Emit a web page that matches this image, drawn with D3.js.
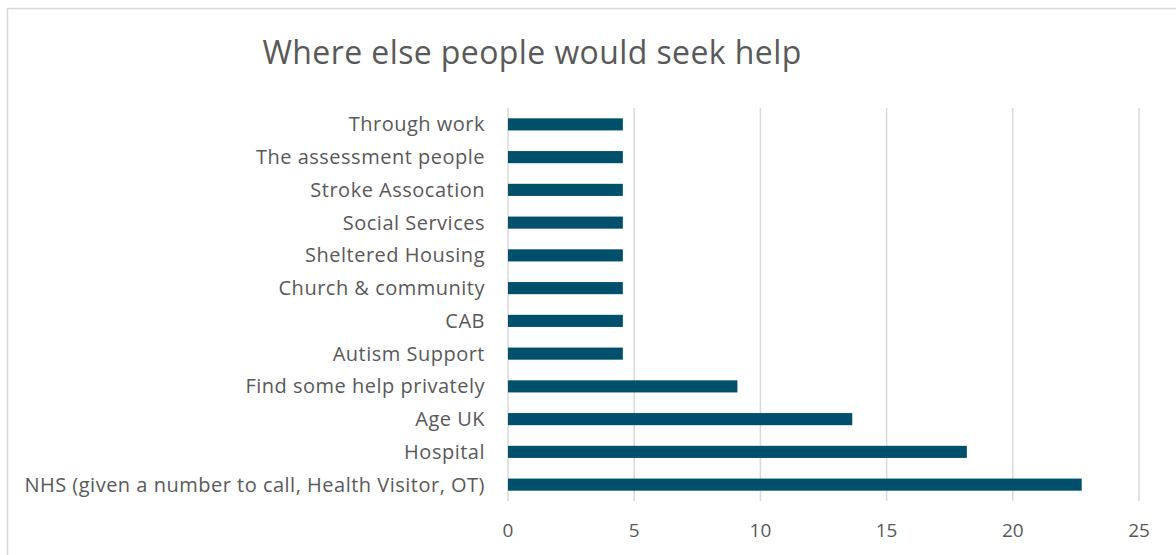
<!DOCTYPE html>
<html>
<head>
<meta charset="utf-8">
<script src="https://cdn.jsdelivr.net/npm/d3@7"></script>
<style>
  body { margin: 0; background: #fff; }
  text { font-family: "Open Sans", sans-serif; fill: #595959; }
</style>
</head>
<body>
<div id="chart"></div>
<script>
const width = 1176,
    height = 555;

// categories top to bottom, as shown
const categories = [
    "Through work",
    "The assessment people",
    "Stroke Assocation",
    "Social Services",
    "Sheltered Housing",
    "Church & community ",
    "CAB",
    "Autism Support",
    "Find some help privately",
    "Age UK",
    "Hospital",
    "NHS (given a number to call, Health Visitor, OT)"
];
const values = [4.55, 4.55, 4.55, 4.55, 4.55, 4.55, 4.55, 4.55, 9.09, 13.64, 18.18, 22.73];
const xTicks = [0, 5, 10, 15, 20, 25];
const title = "Where else people would seek help";

const margin = { top: 108, left: 508, right: 37, bottom: 54 };

const svg = d3.select("#chart")
    .append("svg")
    .attr("width", width)
    .attr("height", height);

// outer chart frame (cut off right and bottom like the original)
svg.append("rect")
    .attr("x", 7.5)
    .attr("y", 8.5)
    .attr("width", width + 20)
    .attr("height", height + 20)
    .attr("fill", "none")
    .attr("stroke", "#d9d9d9")
    .attr("stroke-width", 1.5);

const x = d3.scaleLinear()
    .domain([0, 25])
    .range([margin.left, width - margin.right]);

const y = d3.scaleBand()
    .domain(categories)
    .range([margin.top, height - margin.bottom])
    .paddingInner(0.63)
    .paddingOuter(0.315);

// gridlines
svg.append("g")
    .selectAll("line")
    .data(xTicks)
    .join("line")
    .attr("x1", d => x(d))
    .attr("x2", d => x(d))
    .attr("y1", margin.top)
    .attr("y2", height - margin.bottom)
    .attr("stroke", "#d9d9d9")
    .attr("stroke-width", 1.5);

svg.append("g")
    .selectAll("rect")
    .data(values)
    .join("rect")
    .attr("x", x(0))
    .attr("y", (d, i) => y(categories[i]))
    .attr("width", d => x(d) - x(0))
    .attr("height", y.bandwidth())
    .attr("fill", "#00506b");

// category labels
svg.append("g")
    .selectAll("text")
    .data(categories)
    .join("text")
    .attr("x", margin.left - 23)
    .attr("y", d => y(d) + y.bandwidth() / 2)
    .attr("dy", "0.35em")
    .attr("text-anchor", "end")
    .attr("font-size", 20)
    .attr("letter-spacing", 0.5)
    .text(d => d);

// x tick labels
svg.append("g")
    .selectAll("text")
    .data(xTicks)
    .join("text")
    .attr("x", d => x(d))
    .attr("y", 530)
    .attr("dy", "0.35em")
    .attr("text-anchor", "middle")
    .attr("font-size", 19)
    .text(d => d);

svg.append("text")
    .attr("x", 532)
    .attr("y", 53)
    .attr("dy", "0.35em")
    .attr("text-anchor", "middle")
    .attr("font-size", 32)
    .attr("letter-spacing", 0.4)
    .text(title);
</script>
</body>
</html>
